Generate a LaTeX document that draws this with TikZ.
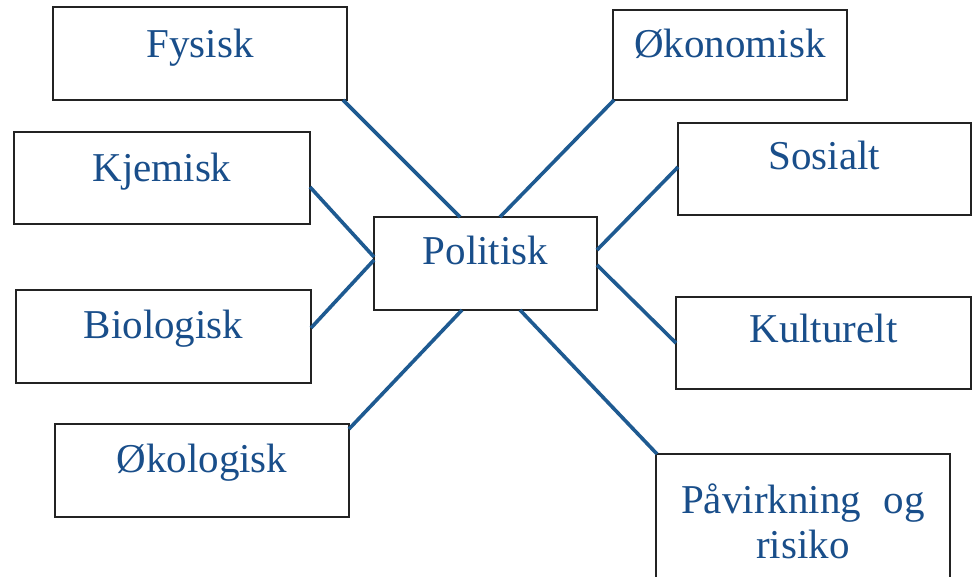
\documentclass[tikz,border=0pt]{standalone}
\usepackage{fontspec}
\setmainfont{Liberation Serif}
\definecolor{linkblue}{RGB}{30,90,145}
\definecolor{textblue}{RGB}{25,78,138}
\definecolor{boxline}{RGB}{35,35,35}
\tikzset{
  box/.style={draw=boxline, line width=1.8pt, anchor=north west, inner xsep=0pt, inner ysep=0pt,
    outer sep=0pt, text=textblue, font=\fontsize{41}{45}\selectfont, align=center},
  link/.style={draw=linkblue, line width=3.6pt}
}
\begin{document}
\begin{tikzpicture}[x=1pt,y=-1pt]
\useasboundingbox (0,0) rectangle (972,577);
\clip (0,0) rectangle (972,577);
\node[box, text width=294pt, text height=51pt, text depth=42pt] (fys) at (53,7) {Fysisk};
\node[box, text width=234pt, text height=48pt, text depth=42pt] (oko) at (613,10) {Økonomisk};
\node[box, text width=296pt, text height=50pt, text depth=42pt] (kje) at (14,132) {Kjemisk};
\node[box, text width=293pt, text height=47pt, text depth=45pt] (sos) at (678,123) {Sosialt};
\node[box, text width=223pt, text height=48pt, text depth=45pt] (pol) at (374,217) {Politisk};
\node[box, text width=295pt, text height=48pt, text depth=45pt] (bio) at (16,290) {Biologisk};
\node[box, text width=295pt, text height=46pt, text depth=46pt] (kul) at (676,297) {Kulturelt};
\node[box, text width=294pt, text height=48pt, text depth=45pt] (okl) at (55,424) {Økologisk};
\node[box, text width=294pt, text height=59pt, text depth=87pt] (pav) at (656,454) {Påvirkning\hspace{0.22em} og\\risiko};
\draw[link] ([xshift=-4pt]fys.south east) -- ([xshift=-25.5pt]pol.north);
\draw[link] ([xshift=1pt]oko.south west) -- ([xshift=14.5pt]pol.north);
\draw[link] ([yshift=-9pt]kje.east) -- ([yshift=6.5pt]pol.west);
\draw[link] ([yshift=8.5pt]bio.east) -- ([yshift=3.5pt]pol.west);
\draw[link] ([yshift=-5pt]okl.north east) -- ([xshift=-23.5pt]pol.south);
\draw[link] ([yshift=2pt]sos.west) -- ([yshift=13.5pt]pol.east);
\draw[link] (kul.west) -- ([yshift=-1.5pt]pol.east);
\draw[link] ([xshift=1pt]pav.north west) -- ([xshift=34.5pt]pol.south);
\end{tikzpicture}
\end{document}
